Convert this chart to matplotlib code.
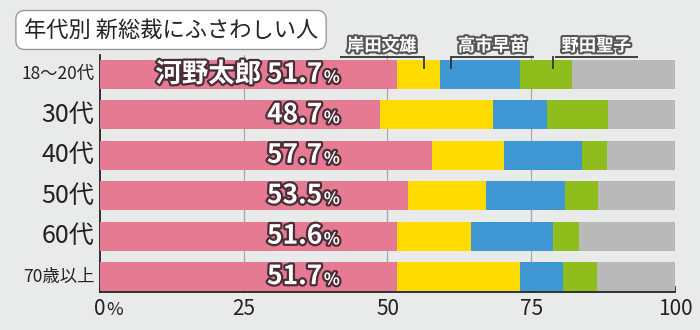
import matplotlib
matplotlib.use("Agg")
import matplotlib.pyplot as plt
import matplotlib.patheffects as pe
import numpy as np

plt.rcParams['font.family'] = ['Noto Sans CJK JP', 'DejaVu Sans']

# data (percent)
groups = ['18〜20代', '30代', '40代', '50代', '60代', '70歳以上']
kono = [51.7, 48.7, 57.7, 53.5, 51.6, 51.7]
kishida = [7.5, 19.6, 12.6, 13.7, 13.0, 21.4]
takaichi = [13.8, 9.5, 13.6, 13.7, 14.1, 7.5]
noda = [9.0, 10.5, 4.2, 5.7, 4.6, 5.9]
other = [100 - a - b - c - d for a, b, c, d in zip(kono, kishida, takaichi, noda)]
names = ['岸田文雄', '高市早苗', '野田聖子']
label_size = [12.5, 18, 18, 18, 18, 12.5]

bg = '#e9ebeb'
colors = ['#e57a92', '#fedb00', '#3f98d4', '#8fbd1c', '#b9b9b9']
outline = '#4b2d38'

fig = plt.figure(figsize=(7, 3.3), dpi=100, facecolor=bg)
ax = fig.add_axes([100 / 700, 1 - 292 / 330, 575 / 700, 237 / 330])
ax.set_facecolor(bg)

y = np.arange(len(groups))
left = np.zeros(len(groups))
for vals, col in zip([kono, kishida, takaichi, noda, other], colors):
    ax.barh(y, vals, left=left, height=0.72, color=col, zorder=3)
    left += np.array(vals)

ax.set_xlim(0, 100)
ax.set_ylim(5.38, -0.48)
for g in [25, 50, 75]:
    ax.axvline(g, color='#a8a8a8', lw=0.9, zorder=1)

for s in ['top', 'right']:
    ax.spines[s].set_visible(False)
ax.spines['left'].set_color('#222222')
ax.spines['bottom'].set_color('#222222')
ax.spines['left'].set_linewidth(1.3)
ax.spines['bottom'].set_linewidth(1.3)

ax.set_xticks([0, 25, 50, 75, 100])
ax.set_xticklabels(['0', '25', '50', '75', '100'], fontsize=15, color='#222222')
ax.tick_params(axis='x', direction='in', length=4, width=1.2, pad=4, color='#222222')
ax.annotate('%', (0, 0), xycoords=('data', 'axes fraction'), xytext=(4.5, -6.5),
            textcoords='offset points', fontsize=13, color='#222222', va='top', ha='left')

ax.set_yticks(y)
ax.set_yticklabels([])
ax.tick_params(axis='y', length=0)
for yi, g, fs in zip(y, groups, label_size):
    ax.text(-1.0, yi, g, fontsize=fs, ha='right', va='center', color='#222222')

stroke = [pe.withStroke(linewidth=3.2, foreground=outline)]

# value labels inside the pink bars, right aligned
x_end = 41.7
fig.canvas.draw()
r = fig.canvas.get_renderer()
for i, v in enumerate(kono):
    pct = ax.text(x_end, y[i] + 0.08, '%', fontsize=12, ha='right', va='center',
                  color='white', fontweight='bold', path_effects=stroke, zorder=5)
    w = pct.get_window_extent(r).width
    txt = f'{v:.1f}'
    if i == 0:
        txt = '河野太郎 ' + txt
    ax.annotate(txt, (x_end, y[i]), xytext=(-w * 72 / 100 - 1, 0), textcoords='offset points',
                fontsize=19, ha='right', va='center', color='white', fontweight='bold',
                path_effects=stroke, zorder=5)

# candidate labels above the first bar
starts = [kono[0], kono[0] + kishida[0], kono[0] + kishida[0] + takaichi[0]]
widths = [kishida[0], takaichi[0], noda[0]]
tick_frac = [0.61, 0.13, 0.64]
line_span = [(41.7, 56.3), (61.0, 75.5), (79.1, 93.5)]
y_line, y_tick = -0.43, -0.16
for n, s0, w, f, (a, b) in zip(names, starts, widths, tick_frac, line_span):
    xt = s0 + f * w
    ax.plot([a, b], [y_line, y_line], color='#333333', lw=1.3, clip_on=False, zorder=6,
            solid_capstyle='butt')
    ax.plot([xt, xt], [y_line, y_tick], color='#333333', lw=1.3, clip_on=False, zorder=6)
    ax.text((a + b) / 2, y_line - 0.05, n, fontsize=12.5, ha='center', va='bottom',
            color='white', fontweight='bold', path_effects=[pe.withStroke(linewidth=3, foreground='#555555')],
            zorder=7, clip_on=False)

fig.text(171 / 700, 1 - 30 / 330, '年代別 新総裁にふさわしい人', fontsize=16, ha='center',
         va='center', color='#222222',
         bbox=dict(boxstyle='round,pad=0.36,rounding_size=0.4', fc='white', ec='#9a9a9a', lw=1))

fig.savefig('out.png', dpi=100, facecolor=bg)
